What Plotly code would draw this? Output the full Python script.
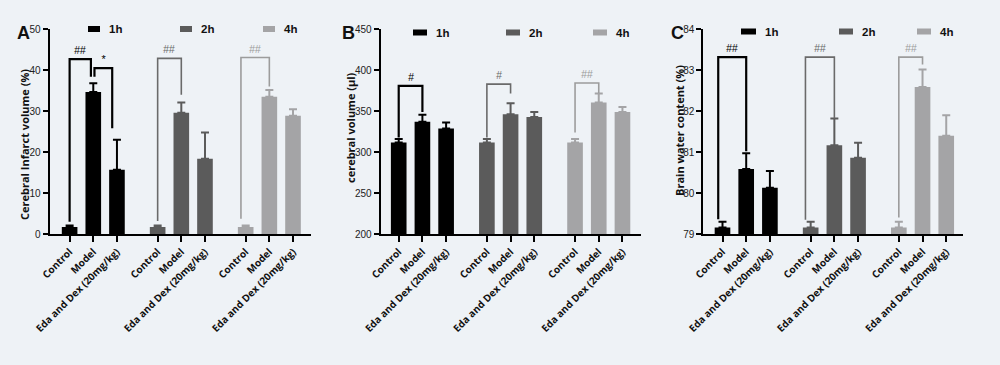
import plotly.graph_objects as go

# ---------------- data ----------------
groups = ["1h", "2h", "4h"]
categories = ["Control", "Model", "Eda and Dex (20mg/kg)"]

# Panel A: Cerebral infarct volume (%)
A_1h = [1.7, 34.7, 15.7]
A_1h_err = [0.4, 2.1, 7.3]
A_2h = [1.7, 29.6, 18.4]
A_2h_err = [0.4, 2.5, 6.4]
A_4h = [1.7, 33.5, 28.9]
A_4h_err = [0.4, 1.7, 1.6]

# Panel B: cerebral volume (µl)
B_1h = [311.8, 337.0, 328.9]
B_1h_err = [4.1, 8.5, 7.3]
B_2h = [311.8, 346.3, 343.0]
B_2h_err = [4.1, 13.5, 6.0]
B_4h = [311.8, 360.6, 349.0]
B_4h_err = [4.1, 10.9, 6.2]

# Panel C: Brain water content (%)
C_1h = [79.16, 80.59, 80.13]
C_1h_err = [0.14, 0.38, 0.41]
C_2h = [79.16, 81.17, 80.86]
C_2h_err = [0.14, 0.65, 0.37]
C_4h = [79.16, 82.59, 81.40]
C_4h_err = [0.14, 0.43, 0.50]

# ---------------- styling / layout ----------------
W, H = 1000, 365
BG = "#eef2f6"
bar_colors = ["#000000", "#5b5b5b", "#a4a4a6"]
brk_colors = ["#000000", "#6a6a6a", "#9c9c9c"]
brk_widths = [2.2, 1.6, 1.6]
GROUP_STEP = 3.72


def px(x):
    return x / W


def py(y):
    return 1 - y / H


ydom = [py(234), py(29.3)]

panels = [
    dict(name="A", data=[(A_1h, A_1h_err), (A_2h, A_2h_err), (A_4h, A_4h_err)],
         xdom=[px(49.5), px(311)], xr=[-0.85, 10.2], yr=[0, 50], dt=10,
         title="Cerebral Infarct volume (%)", title_xy=(24, 145), letter_xy=(23, 33),
         legend=[(88, 100, 29), (180, 192, 29), (263, 275, 29)],
         brackets=[(0, 0.9, 42.7, 3.0, 38.4, "##", 0),
                   (1.05, 1.8, 40.5, 38.4, 25.8, "*", 0),
                   (3.72, 4.72, 42.9, 3.2, 34.0, "##", 1),
                   (7.24, 8.44, 43.1, 3.7, 36.0, "##", 2)]),
    dict(name="B", data=[(B_1h, B_1h_err), (B_2h, B_2h_err), (B_4h, B_4h_err)],
         xdom=[px(380.7), px(640.7)], xr=[-0.76, 10.21], yr=[200, 450], dt=50,
         title="cerebral volume (μl)", title_xy=(350, 128), letter_xy=(348, 33),
         legend=[(413, 427, 32.5), (506, 520, 32.5), (593, 607, 32.5)],
         brackets=[(0, 1, 380.8, 318, 349, "#", 0),
                   (3.72, 4.72, 383, 318, 371.5, "#", 1),
                   (7.44, 8.44, 384.5, 324, 372.3, "##", 2)]),
    dict(name="C", data=[(C_1h, C_1h_err), (C_2h, C_2h_err), (C_4h, C_4h_err)],
         xdom=[px(703.3), px(963.3)], xr=[-0.81, 10.16], yr=[79, 84], dt=1,
         title="Brain water content (%)", title_xy=(679, 131), letter_xy=(677.5, 33),
         legend=[(741, 756, 31.5), (839, 853, 31.5), (917, 931, 31.5)],
         brackets=[(-0.18, 1, 83.32, 79.36, 81.02, "##", 0),
                   (3.5, 4.72, 83.32, 79.35, 81.82, "##", 1),
                   (7.44, 8.44, 83.32, 79.40, 83.14, "##", 2)]),
]

fig = go.Figure()
shapes = []
annotations = []
layout_axes = {}

positions = [g * GROUP_STEP + i for g in range(3) for i in range(3)]
ticktext = categories * 3

for p_i, p in enumerate(panels):
    sfx = "" if p_i == 0 else str(p_i + 1)
    xa, ya = "x" + sfx, "y" + sfx
    for g, (vals, errs) in enumerate(p["data"]):
        xs = [g * GROUP_STEP + i for i in range(3)]
        fig.add_trace(go.Bar(
            x=xs, y=vals, width=0.66, xaxis=xa, yaxis=ya,
            marker=dict(color=bar_colors[g], line=dict(width=0)),
            error_y=dict(type="data", array=errs, arrayminus=[0] * 3, symmetric=False,
                         color=bar_colors[g], thickness=2, width=4),
            showlegend=False, hoverinfo="skip"))
    # significance brackets
    for (x0, x1, top, yl, yr, txt, g) in p["brackets"]:
        fig.add_trace(go.Scatter(
            x=[x0, x0, x1, x1], y=[yl, top, top, yr], xaxis=xa, yaxis=ya,
            mode="lines", line=dict(color=brk_colors[g], width=brk_widths[g]),
            showlegend=False, hoverinfo="skip"))
        annotations.append(dict(
            x=(x0 + x1) / 2, y=top, xref=xa, yref=ya, text=txt, showarrow=False,
            yanchor="bottom", yshift=1,
            font=dict(family="Liberation Sans", size=10.5 if txt != "*" else 11,
                      color=brk_colors[g], style="italic")))
    lo, hi = p["yr"]
    n = int(round((hi - lo) / p["dt"]))
    tv = [lo + k * p["dt"] for k in range(n + 1)]
    layout_axes["xaxis" + sfx] = dict(
        domain=p["xdom"], range=p["xr"], anchor=ya, showline=True, linecolor="#000",
        linewidth=2, ticks="outside", ticklen=6, tickwidth=1.6, tickcolor="#000",
        tickvals=positions, ticktext=ticktext, tickangle=-45, automargin=False,
        tickfont=dict(family="Open Sans", size=10, color="#111", weight="bold"),
        showgrid=False, zeroline=False, fixedrange=True)
    layout_axes["yaxis" + sfx] = dict(
        domain=ydom, range=p["yr"], anchor=xa, showline=True, linecolor="#000",
        linewidth=2, ticks="outside", ticklen=5, tickwidth=1.6, tickcolor="#000",
        tickvals=tv, ticktext=[str(v) for v in tv], automargin=False,
        tickfont=dict(family="Liberation Sans", size=10, color="#222"),
        showgrid=False, zeroline=False, fixedrange=True)
    # y title
    tx, ty = p["title_xy"]
    annotations.append(dict(
        x=px(tx), y=py(ty), xref="paper", yref="paper", text=p["title"], textangle=-90,
        showarrow=False, xanchor="center", yanchor="middle",
        font=dict(family="Open Sans", size=11, color="#111", weight="bold")))
    # panel letter
    lx, ly = p["letter_xy"]
    annotations.append(dict(
        x=px(lx), y=py(ly), xref="paper", yref="paper", text=p["name"], showarrow=False,
        xanchor="center", yanchor="middle",
        font=dict(family="Liberation Sans", size=18, color="#111", weight="bold")))
    # legend
    for g, (l0, l1, lyc) in enumerate(p["legend"]):
        shapes.append(dict(type="rect", xref="paper", yref="paper",
                           x0=px(l0), x1=px(l1), y0=py(lyc + 3), y1=py(lyc - 3),
                           fillcolor=bar_colors[g], line=dict(width=0)))
        annotations.append(dict(
            x=px(l1 + 7), y=py(lyc), xref="paper", yref="paper", text=groups[g],
            showarrow=False, xanchor="left", yanchor="middle",
            font=dict(family="Liberation Sans", size=11.5, color="#111", weight="bold")))

fig.update_layout(
    width=W, height=H, margin=dict(l=0, r=0, t=0, b=0, autoexpand=False),
    paper_bgcolor=BG, plot_bgcolor=BG, barmode="overlay",
    shapes=shapes, annotations=annotations, **layout_axes)

fig.write_html(
    "out.html",
    config={"displayModeBar": False},
    post_script="document.body.style.margin='0';document.body.style.background='#eef2f6';",
)
